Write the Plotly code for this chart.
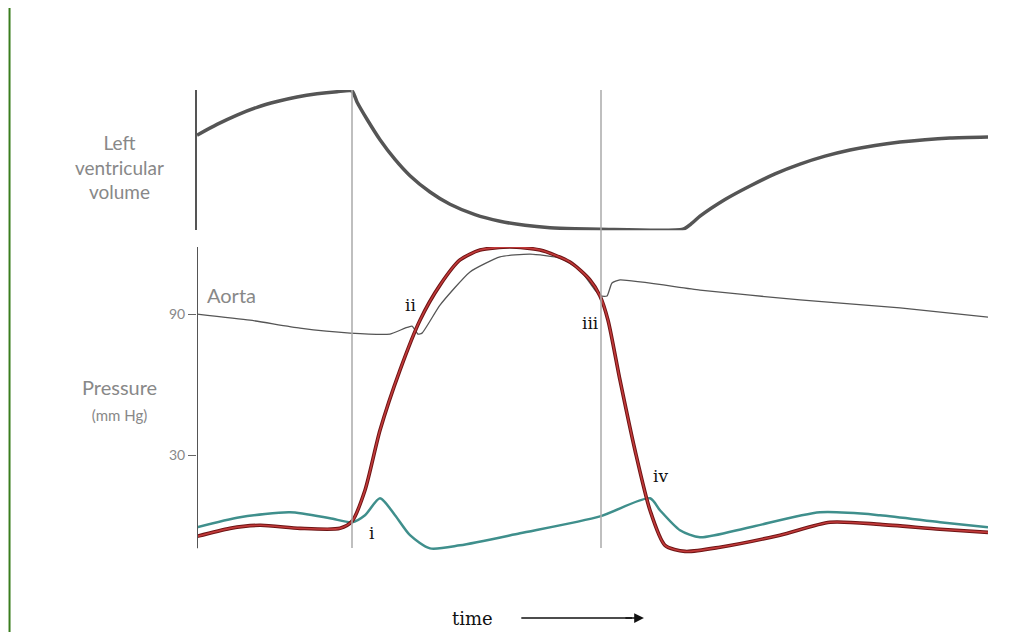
import plotly.graph_objects as go

# time axis in ms (arbitrary units)
vol_t = [0, 20, 40, 60, 80, 100, 120, 140, 155, 160, 170, 183, 198, 213, 233, 253, 278, 303, 328, 353, 378, 403, 486,
         495, 503, 528, 553, 578, 603, 628, 653, 678, 703, 728, 753, 791]
vol_v = [107.8, 113.2, 117.9, 121.8, 124.7, 127, 128.6, 129.6, 130, 124.5, 115.8, 105.5, 95.6, 87.4, 79.2, 73.0, 67.8,
         64.5, 62.4, 61.2, 60.7, 60.5, 60.5, 63.5, 67, 75.4, 82.2, 88.3, 93.2, 97.2, 100.3, 102.6, 104.3, 105.5, 106.3, 106.8]

ao_t = [0, 53, 103, 153, 193, 208, 215, 221, 225, 243, 273, 303, 333, 363, 383, 398, 404, 410, 415, 423, 503, 603, 703, 791]
ao_p = [90, 87.4, 84, 81.9, 81.5, 84, 84.9, 81.5, 81.9, 93.8, 107.9, 114.3, 115.5, 113.8, 108.7, 100.2, 97.7, 97.7, 103.2, 104.5, 100.2, 96, 92.6, 88.7]

lv_t = [0, 33, 63, 103, 143, 155, 168, 183, 203, 223, 243, 263, 283, 313, 343, 373, 393, 403, 411, 423, 438, 453, 468, 488, 523, 583, 633, 683, 743, 791]
lv_p = [-4.5, -1.1, 0.2, -1.1, -1.1, 1.9, 15.1, 40.6, 66.2, 87.4, 102.3, 113, 117.2, 118.5, 117.2, 112.1, 104.5, 97.7, 87.4, 61.9, 32.1, 6.6, -8.3, -10.9, -9.1, -4, 1.5, 0.6, -1.5, -2.8]

la_t = [0, 43, 93, 133, 155, 168, 183, 198, 213, 233, 263, 323, 403, 453, 463, 483, 503, 553, 623, 683, 743, 791]
la_p = [-0.6, 3.6, 5.7, 3.2, 1.5, 4.5, 11.7, 4.5, -4, -9.6, -8.3, -3.2, 4, 11.7, 6.6, -1.9, -4.9, -0.6, 5.7, 4.5, 1.5, -0.6]

event_t = [155, 404]
labels = [("i", 175, -3), ("ii", 213, 94), ("iii", 393, 86), ("iv", 463, 21)]
p_axis = [-9.6, 118.5]

fig = go.Figure()
fig.add_trace(go.Scatter(x=vol_t, y=vol_v, yaxis="y2", mode="lines",
                         line=dict(color="#555555", width=3.5, shape="spline", smoothing=0.6)))
fig.add_trace(go.Scatter(x=ao_t, y=ao_p, mode="lines",
                         line=dict(color="#555555", width=1.3, shape="spline", smoothing=0.5)))
fig.add_trace(go.Scatter(x=la_t, y=la_p, mode="lines",
                         line=dict(color="#3f8f8c", width=2.5, shape="spline", smoothing=0.7)))
fig.add_trace(go.Scatter(x=lv_t, y=lv_p, mode="lines",
                         line=dict(color="#6e1414", width=3.6, shape="spline", smoothing=0.7)))
fig.add_trace(go.Scatter(x=lv_t, y=lv_p, mode="lines",
                         line=dict(color="#c23a3a", width=1.6, shape="spline", smoothing=0.7)))

shapes = []
for t in event_t:
    shapes.append(dict(type="line", xref="x", yref="paper", x0=t, x1=t, y0=0.0129, y1=1,
                       line=dict(color="#aaaaaa", width=1.5)))
shapes.append(dict(type="line", xref="x", yref="y", x0=0, x1=0, y0=p_axis[0], y1=p_axis[1],
                   line=dict(color="#555", width=2)))
shapes.append(dict(type="line", xref="paper", yref="paper", x0=-0.237, x1=-0.237, y0=-0.2, y1=1.2,
                   line=dict(color="#3a7d1e", width=2)))
shapes.append(dict(type="line", xref="paper", yref="paper", x0=0.41, x1=0.55, y0=-0.138, y1=-0.138,
                   line=dict(color="#111", width=1.5)))

grey = dict(family="Lato, sans-serif", size=19, color="#888")
ann = [dict(x=t, y=p, text=s, showarrow=False, xref="x", yref="y",
            font=dict(family="DejaVu Serif, serif", size=17, color="#111")) for s, t, p in labels]
ann += [
    dict(text="Left<br>ventricular<br>volume", x=-0.098, y=0.915, xref="paper", yref="paper",
         xanchor="center", showarrow=False, font=grey),
    dict(text="Aorta", x=8, y=98, xref="x", yref="y", xanchor="left", showarrow=False,
         font=dict(family="Lato, sans-serif", size=20, color="#888")),
    dict(text="Pressure<br><span style='font-size:15px'>(mm Hg)</span>", x=-0.098, y=0.275,
         xref="paper", yref="paper", xanchor="center", showarrow=False,
         font=dict(family="Lato, sans-serif", size=20, color="#888")),
    dict(text="time", x=0.348, y=-0.138, xanchor="center", yanchor="middle", showarrow=False,
         xref="paper", yref="paper", font=dict(family="DejaVu Serif, serif", size=18, color="#111")),
    dict(x=0.565, y=-0.138, ax=-20, ay=0, xref="paper", yref="paper", axref="pixel", ayref="pixel",
         text="", showarrow=True, arrowhead=2, arrowsize=1.3, arrowwidth=1.5, arrowcolor="#111"),
]

fig.update_layout(
    width=1030, height=632, showlegend=False,
    paper_bgcolor="white", plot_bgcolor="white",
    margin=dict(l=189, r=50, t=82, b=86),
    shapes=shapes, annotations=ann,
    xaxis=dict(range=[0, 791], visible=False),
    yaxis=dict(domain=[0, 0.6616], range=[-12, 118.5], tickvals=[30, 90], ticks="outside", ticklen=8,
               tickcolor="#666", showline=False, showgrid=False, zeroline=False,
               tickfont=dict(family="Lato, sans-serif", size=14, color="#888")),
    yaxis2=dict(domain=[0.698, 1], range=[60, 130.5], showline=True, linecolor="#555", linewidth=2,
                showticklabels=False, ticks="", showgrid=False, zeroline=False),
)
fig.write_html("out.html")
